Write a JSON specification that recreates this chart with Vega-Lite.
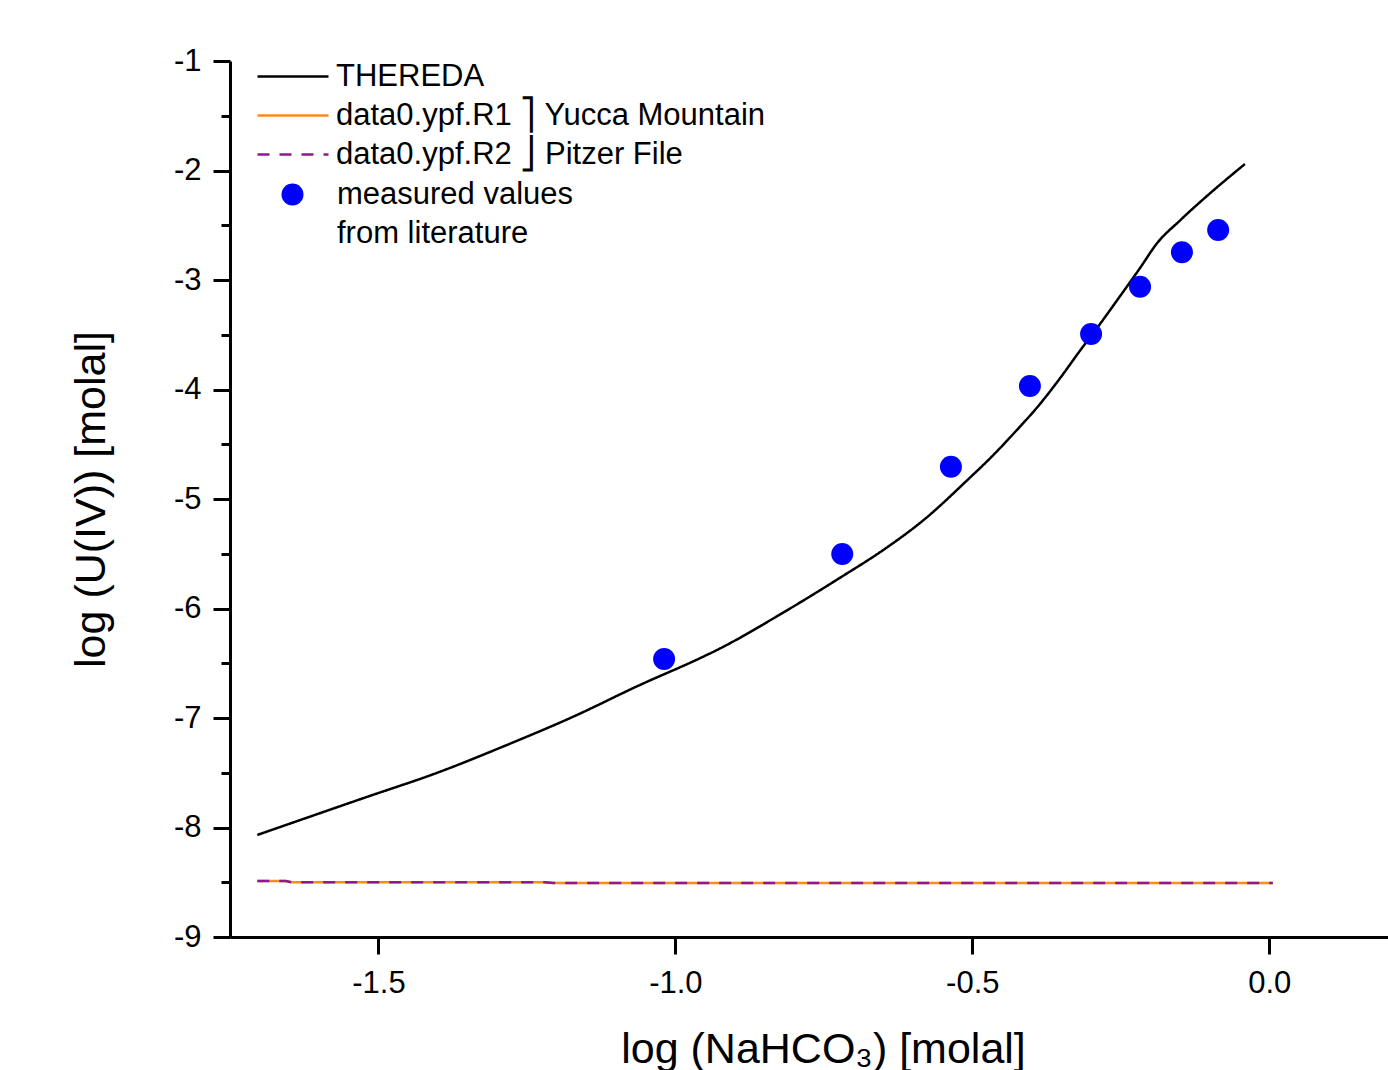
{
  "$schema": "https://vega.github.io/schema/vega-lite/v6.json",
  "width": 1158,
  "height": 876,
  "autosize": {"type": "none"},
  "padding": {"left": 230, "top": 61, "right": 0, "bottom": 133},
  "background": "white",
  "config": {
    "view": {"stroke": null},
    "font": "Liberation Sans",
    "axis": {
      "grid": false,
      "domainColor": "#000000",
      "domainWidth": 3,
      "tickColor": "#000000",
      "tickWidth": 3,
      "labelColor": "#000000",
      "labelFont": "Liberation Sans",
      "labelFontSize": 31,
      "titleFont": "Liberation Sans",
      "titleFontSize": 43,
      "titleFontWeight": "normal",
      "titleColor": "#000000",
      "labelFlush": false,
      "labelOverlap": false
    },
    "legend": {
      "labelFont": "Liberation Sans",
      "labelFontSize": 31,
      "labelColor": "#000000",
      "labelLimit": 800,
      "padding": 0,
      "rowPadding": 0
    }
  },
  "datasets": {
    "curves": [
      {"series": "THEREDA", "x": -1.704, "y": -8.068},
      {"series": "THEREDA", "x": -1.526, "y": -7.733},
      {"series": "THEREDA", "x": -1.396, "y": -7.49},
      {"series": "THEREDA", "x": -1.284, "y": -7.247},
      {"series": "THEREDA", "x": -1.172, "y": -6.988},
      {"series": "THEREDA", "x": -1.06, "y": -6.699},
      {"series": "THEREDA", "x": -0.959, "y": -6.455},
      {"series": "THEREDA", "x": -0.93, "y": -6.379},
      {"series": "THEREDA", "x": -0.818, "y": -6.036},
      {"series": "THEREDA", "x": -0.72, "y": -5.71},
      {"series": "THEREDA", "x": -0.65, "y": -5.466},
      {"series": "THEREDA", "x": -0.582, "y": -5.192},
      {"series": "THEREDA", "x": -0.504, "y": -4.805},
      {"series": "THEREDA", "x": -0.47, "y": -4.628},
      {"series": "THEREDA", "x": -0.428, "y": -4.388},
      {"series": "THEREDA", "x": -0.386, "y": -4.132},
      {"series": "THEREDA", "x": -0.352, "y": -3.895},
      {"series": "THEREDA", "x": -0.319, "y": -3.648},
      {"series": "THEREDA", "x": -0.285, "y": -3.402},
      {"series": "THEREDA", "x": -0.251, "y": -3.146},
      {"series": "THEREDA", "x": -0.2175, "y": -2.89},
      {"series": "THEREDA", "x": -0.189, "y": -2.665},
      {"series": "THEREDA", "x": -0.15, "y": -2.455},
      {"series": "THEREDA", "x": -0.103, "y": -2.224},
      {"series": "THEREDA", "x": -0.041, "y": -1.941},
      {"series": "data0.ypf.R1", "x": -1.704, "y": -8.489},
      {"series": "data0.ypf.R1", "x": -1.657, "y": -8.489},
      {"series": "data0.ypf.R1", "x": -1.644, "y": -8.501},
      {"series": "data0.ypf.R1", "x": -1.22, "y": -8.501},
      {"series": "data0.ypf.R1", "x": -1.2, "y": -8.507},
      {"series": "data0.ypf.R1", "x": 0.006, "y": -8.507},
      {"series": "data0.ypf.R2", "x": -1.704, "y": -8.489},
      {"series": "data0.ypf.R2", "x": -1.657, "y": -8.489},
      {"series": "data0.ypf.R2", "x": -1.644, "y": -8.501},
      {"series": "data0.ypf.R2", "x": -1.22, "y": -8.501},
      {"series": "data0.ypf.R2", "x": -1.2, "y": -8.507},
      {"series": "data0.ypf.R2", "x": 0.006, "y": -8.507}
    ],
    "measured": [
      {"series": "measured values", "x": -1.019, "y": -6.461},
      {"series": "measured values", "x": -0.719, "y": -5.502},
      {"series": "measured values", "x": -0.536, "y": -4.705},
      {"series": "measured values", "x": -0.403, "y": -3.968},
      {"series": "measured values", "x": -0.3, "y": -3.493},
      {"series": "measured values", "x": -0.2175, "y": -3.061},
      {"series": "measured values", "x": -0.147, "y": -2.747},
      {"series": "measured values", "x": -0.086, "y": -2.543}
    ]
  },
  "layer": [
    {
      "data": {"name": "curves"},
      "mark": {"type": "line", "strokeWidth": 2.5, "interpolate": "monotone"},
      "encoding": {
        "x": {
          "field": "x",
          "type": "quantitative",
          "scale": {"domain": [-1.75, 0.2], "nice": false, "zero": false},
          "axis": {
            "values": [-1.5, -1, -0.5, 0],
            "labelExpr": "replace(format(datum.value, '.1f'), '−', '-')",
            "tickSize": 17,
            "labelPadding": 14,
            "title": "log (NaHCO₃) [molal]",
            "titlePadding": 30,
            "titleX": 593
          }
        },
        "y": {
          "field": "y",
          "type": "quantitative",
          "scale": {"domain": [-9, -1], "nice": false, "zero": false},
          "axis": {
            "values": [-9, -8.5, -8, -7.5, -7, -6.5, -6, -5.5, -5, -4.5, -4, -3.5, -3, -2.5, -2, -1.5, -1],
            "labelExpr": "datum.value % 1 == 0 ? replace(format(datum.value, 'd'), '−', '-') : ''",
            "tickSize": {"condition": {"test": "datum.value % 1 != 0", "value": 9}, "value": 17},
            "labelPadding": 12,
            "title": "log (U(IV)) [molal]",
            "titlePadding": 60
          }
        },
        "color": {
          "field": "series",
          "type": "nominal",
          "scale": {
            "domain": ["THEREDA", "data0.ypf.R1", "data0.ypf.R2"],
            "range": ["#000000", "#ff8a1c", "#8b1a8b"]
          },
          "legend": {
            "title": null,
            "orient": "none",
            "legendX": 26,
            "legendY": -4,
            "direction": "vertical",
            "symbolType": "stroke",
            "symbolSize": 5041,
            "symbolStrokeWidth": 2.5,
            "labelOffset": 6,
            "clipHeight": 39,
            "labelExpr": "datum.label == 'data0.ypf.R1' ? 'data0.ypf.R1 ⎤ Yucca Mountain' : datum.label == 'data0.ypf.R2' ? 'data0.ypf.R2 ⎦ Pitzer File' : datum.label"
          }
        },
        "strokeDash": {
          "field": "series",
          "type": "nominal",
          "scale": {
            "domain": ["THEREDA", "data0.ypf.R1", "data0.ypf.R2"],
            "range": [[1, 0], [1, 0], [12, 10]]
          },
          "legend": {
            "title": null,
            "orient": "none",
            "legendX": 26,
            "legendY": -4,
            "direction": "vertical",
            "symbolType": "stroke",
            "symbolSize": 5041,
            "symbolStrokeWidth": 2.5,
            "labelOffset": 6,
            "clipHeight": 39,
            "labelExpr": "datum.label == 'data0.ypf.R1' ? 'data0.ypf.R1 ⎤ Yucca Mountain' : datum.label == 'data0.ypf.R2' ? 'data0.ypf.R2 ⎦ Pitzer File' : datum.label"
          }
        }
      }
    },
    {
      "data": {"name": "measured"},
      "mark": {"type": "point", "filled": true, "size": 484, "opacity": 1, "strokeWidth": 0},
      "encoding": {
        "x": {"field": "x", "type": "quantitative"},
        "y": {"field": "y", "type": "quantitative"},
        "fill": {
          "field": "series",
          "type": "nominal",
          "scale": {
            "domain": ["measured values", "from literature"],
            "range": ["#0000ff", "transparent"]
          },
          "legend": {
            "title": null,
            "orient": "none",
            "legendX": 47,
            "legendY": 114,
            "direction": "vertical",
            "symbolType": "circle",
            "symbolSize": 484,
            "symbolStrokeWidth": 0,
            "symbolOpacity": 1,
            "labelOffset": 29,
            "clipHeight": 39
          }
        }
      }
    }
  ]
}
